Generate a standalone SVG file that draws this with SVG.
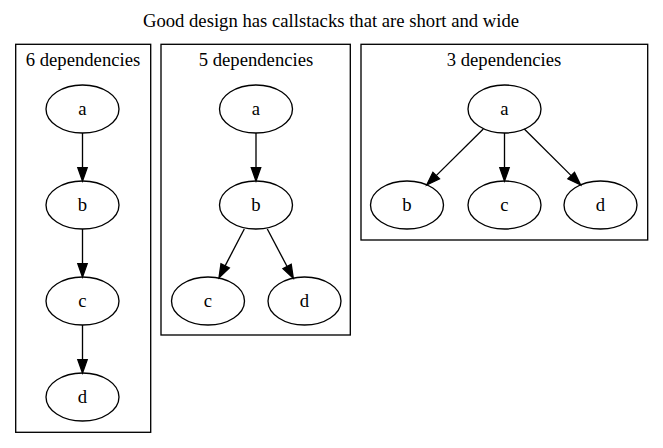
<svg xmlns="http://www.w3.org/2000/svg" width="663" height="448" viewBox="0 0 663 448">
<style>
text{font-family:"Liberation Serif","Times New Roman",serif;font-size:18.67px;fill:#000;text-anchor:middle}
.cl{fill:none;stroke:#000;stroke-width:1.33}
.nd ellipse{fill:none;stroke:#000;stroke-width:1.33}
.ed line{stroke:#000;stroke-width:1.33}
.ed polygon{fill:#000;stroke:#000;stroke-width:1.33}
</style>
<rect width="663" height="448" fill="#fff"/>
<text x="331" y="27">Good design has callstacks that are short and wide</text>

<g id="cluster_6">
<rect class="cl" x="15.7" y="44.3" width="135" height="388"/>
<text x="83" y="66">6 dependencies</text>
</g>
<g id="cluster_5">
<rect class="cl" x="161" y="44.3" width="189.3" height="290.7"/>
<text x="256" y="66">5 dependencies</text>
</g>
<g id="cluster_3">
<rect class="cl" x="361" y="44.3" width="286.7" height="195.7"/>
<text x="504" y="66">3 dependencies</text>
</g>

<g id="c6_a" class="nd"><ellipse cx="82.5" cy="109" rx="36.5" ry="24"/><text x="82.5" y="115">a</text></g>
<g id="c6_b" class="nd"><ellipse cx="82.5" cy="205" rx="36.5" ry="24"/><text x="82.5" y="211">b</text></g>
<g id="c6_c" class="nd"><ellipse cx="82.5" cy="301" rx="36.5" ry="24"/><text x="82.5" y="307">c</text></g>
<g id="c6_d" class="nd"><ellipse cx="82.5" cy="397" rx="36.5" ry="24"/><text x="82.5" y="403">d</text></g>

<g id="c5_a" class="nd"><ellipse cx="256" cy="109" rx="36.5" ry="24"/><text x="256" y="115">a</text></g>
<g id="c5_b" class="nd"><ellipse cx="256" cy="205" rx="36.5" ry="24"/><text x="256" y="211">b</text></g>
<g id="c5_c" class="nd"><ellipse cx="208" cy="301" rx="36.5" ry="24"/><text x="208" y="307">c</text></g>
<g id="c5_d" class="nd"><ellipse cx="304.5" cy="301" rx="36.5" ry="24"/><text x="304.5" y="307">d</text></g>

<g id="c3_a" class="nd"><ellipse cx="504.5" cy="109" rx="36.5" ry="24"/><text x="504.5" y="115">a</text></g>
<g id="c3_b" class="nd"><ellipse cx="407" cy="205" rx="36.5" ry="24"/><text x="407" y="211">b</text></g>
<g id="c3_c" class="nd"><ellipse cx="504.5" cy="205" rx="36.5" ry="24"/><text x="504.5" y="211">c</text></g>
<g id="c3_d" class="nd"><ellipse cx="600.5" cy="205" rx="36.5" ry="24"/><text x="600.5" y="211">d</text></g>

<g id="edges" class="ed">
<line x1="82.5" y1="133" x2="82.5" y2="168"/><polygon points="82.5,181 77.8,167.7 87.2,167.7"/>
<line x1="82.5" y1="229" x2="82.5" y2="264"/><polygon points="82.5,277 77.8,263.7 87.2,263.7"/>
<line x1="82.5" y1="325" x2="82.5" y2="360"/><polygon points="82.5,373 77.8,359.7 87.2,359.7"/>

<line x1="256" y1="133" x2="256" y2="168"/><polygon points="256,181 251.3,167.7 260.7,167.7"/>
<line x1="244.3" y1="229" x2="225.1" y2="265.9"/><polygon points="219,277.7 229.3,268 221,263.7"/>
<line x1="267.3" y1="229" x2="287.1" y2="266.5"/><polygon points="293.3,278.3 283,268.7 291.2,264.3"/>

<line x1="483.3" y1="129" x2="436.2" y2="175.6"/><polygon points="426.7,185 439.5,178.9 432.9,172.3"/>
<line x1="504.5" y1="133" x2="504.5" y2="168"/><polygon points="504.5,181 499.8,167.7 509.2,167.7"/>
<line x1="524.3" y1="129" x2="571.2" y2="175.6"/><polygon points="580.7,185 567.9,178.9 574.5,172.3"/>
</g>
</svg>
